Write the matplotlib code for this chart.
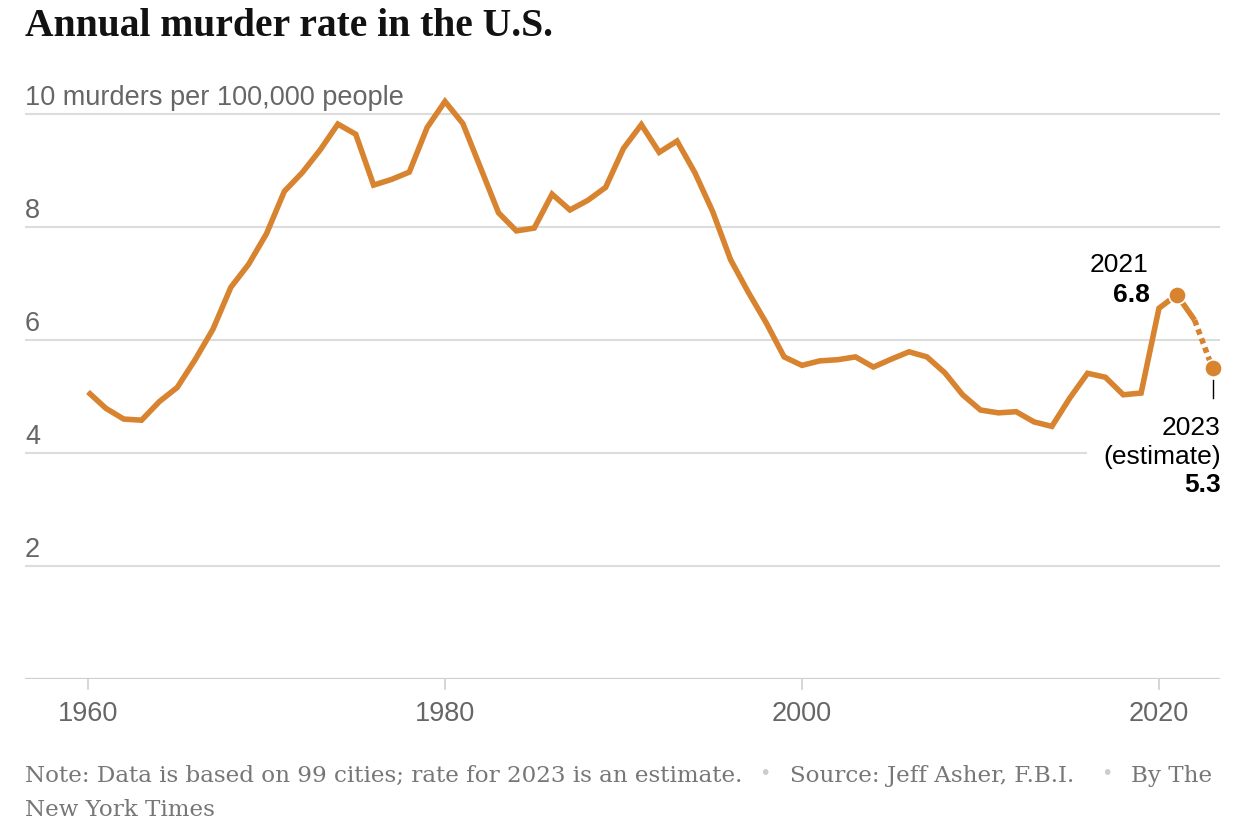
import matplotlib
matplotlib.use('Agg')
import matplotlib.pyplot as plt
from matplotlib.transforms import offset_copy

# Annual murder rate, per 100,000 people
years = list(range(1960, 2024))
rates = [5.08, 4.79, 4.60, 4.58, 4.91, 5.16, 5.65, 6.19, 6.93, 7.34,
         7.88, 8.63, 8.96, 9.36, 9.82, 9.64, 8.74, 8.84, 8.97, 9.76,
         10.22, 9.83, 9.04, 8.25, 7.93, 7.98, 8.58, 8.30, 8.47, 8.70,
         9.39, 9.81, 9.32, 9.52, 8.96, 8.27, 7.42, 6.84, 6.30, 5.70,
         5.55, 5.63, 5.65, 5.70, 5.52, 5.66, 5.79, 5.70, 5.42, 5.03,
         4.76, 4.71, 4.73, 4.55, 4.47, 4.97, 5.41, 5.34, 5.03, 5.06,
         6.56, 6.80, 6.35, 5.50]

y_ticks = [2, 4, 6, 8, 10]
y_labels = ['2', '4', '6', '8', '10 murders per 100,000 people']
x_ticks = [1960, 1980, 2000, 2020]
x_labels = ['1960', '1980', '2000', '2020']

peak_year, peak_label = 2021, '6.8'
est_year, est_label = 2023, '5.3'

ORANGE = '#d8832f'
GRID = '#dcdcdc'
LABEL = '#666666'
SANS = 'Liberation Sans'

fig = plt.figure(figsize=(12.56, 8.38), dpi=100)
ax = fig.add_axes([25 / 1256, 1 - 679 / 838, 1195 / 1256, 599 / 838])
xmin, xmax = 1956.47, 2023.42
ax.set_xlim(xmin, xmax)
ax.set_ylim(0, 10.6)
ax.axis('off')

# gridlines (the one at 4 stops short to leave room for the annotation)
for v in y_ticks:
    end = 2015.97 if v == 4 else xmax
    ax.hlines(v, xmin, end, color=GRID, linewidth=1.5, zorder=1)
ax.hlines(0, xmin, xmax, color='#cfcfcf', linewidth=1.6, zorder=1)

# y labels sit above the gridlines
ytrans = offset_copy(ax.get_yaxis_transform(), fig=fig, x=0, y=9, units='dots')
for v, lab in zip(y_ticks, y_labels):
    ax.text(0, v, lab, transform=ytrans, ha='left', va='baseline',
            fontsize=19.5, color=LABEL, family=SANS)

# x ticks and labels
xtrans = ax.get_xaxis_transform()
for yr, lab in zip(x_ticks, x_labels):
    ax.plot([yr, yr], [0, -0.016], transform=xtrans, color='#cfcfcf',
            linewidth=1.2, clip_on=False)
    ax.text(yr, -0.058, lab, transform=xtrans, ha='center', va='center',
            fontsize=19.5, color=LABEL, family=SANS)

# main line: solid through 2022, dotted to the 2023 estimate
i22 = years.index(2022)
ax.plot(years[:i22 + 1], rates[:i22 + 1], color=ORANGE, linewidth=4.0,
        solid_joinstyle='miter', solid_capstyle='butt', zorder=3, clip_on=False)
ax.plot(years[i22:], rates[i22:], color=ORANGE, linewidth=4.0,
        linestyle=(0, (1.0, 0.75)), dash_capstyle='butt', zorder=3, clip_on=False)

# highlighted points
for yr in (peak_year, est_year):
    ax.plot(yr, rates[years.index(yr)], 'o', color=ORANGE, markersize=12.5,
            markeredgecolor='white', markeredgewidth=1.2, zorder=4, clip_on=False)


def label_at(x, y, text, dx, dy, bold=False):
    tr = offset_copy(ax.transData, fig=fig, x=dx, y=dy, units='dots')
    ax.text(x, y, text, transform=tr, ha='right', va='baseline', fontsize=19,
            color='black', family=SANS, fontweight='bold' if bold else 'normal')


# annotation for 2021
py = rates[years.index(peak_year)]
label_at(peak_year, py, str(peak_year), -28, 23)
label_at(peak_year, py, peak_label, -27, -7, bold=True)

# annotation for 2023 estimate
ey = rates[years.index(est_year)]
ax.plot([est_year, est_year], [ey - 0.21, ey - 0.53], color='black',
        linewidth=1.0, clip_on=False, zorder=2)
label_at(est_year, ey, str(est_year), 8, -67)
label_at(est_year, ey, '(estimate)', 8, -96)
label_at(est_year, ey, est_label, 8, -124, bold=True)

# title
fig.text(25 / 1256, 1 - 36 / 838, 'Annual murder rate in the U.S.',
         fontsize=28.5, fontweight='bold', family='Liberation Serif',
         color='#121212', ha='left', va='baseline')

# footer
FOOT = '#777777'
FS = 16.6
fy1 = 1 - 782 / 838
fy2 = 1 - 816 / 838
fig.text(25 / 1256, fy1, 'Note: Data is based on 99 cities; rate for 2023 is an estimate.',
         fontsize=FS, color=FOOT, family='DejaVu Serif', ha='left', va='baseline')
fig.text(765 / 1256, fy1 + 0.004, '\u2022', fontsize=14, color='#cccccc',
         family='DejaVu Sans', ha='center', va='baseline')
fig.text(790 / 1256, fy1, 'Source: Jeff Asher, F.B.I.',
         fontsize=FS, color=FOOT, family='DejaVu Serif', ha='left', va='baseline')
fig.text(1107 / 1256, fy1 + 0.004, '\u2022', fontsize=14, color='#cccccc',
         family='DejaVu Sans', ha='center', va='baseline')
fig.text(1131 / 1256, fy1, 'By The',
         fontsize=FS, color=FOOT, family='DejaVu Serif', ha='left', va='baseline')
fig.text(25 / 1256, fy2, 'New York Times',
         fontsize=FS, color=FOOT, family='DejaVu Serif', ha='left', va='baseline')

fig.savefig('out.png', dpi=100, facecolor='white')
